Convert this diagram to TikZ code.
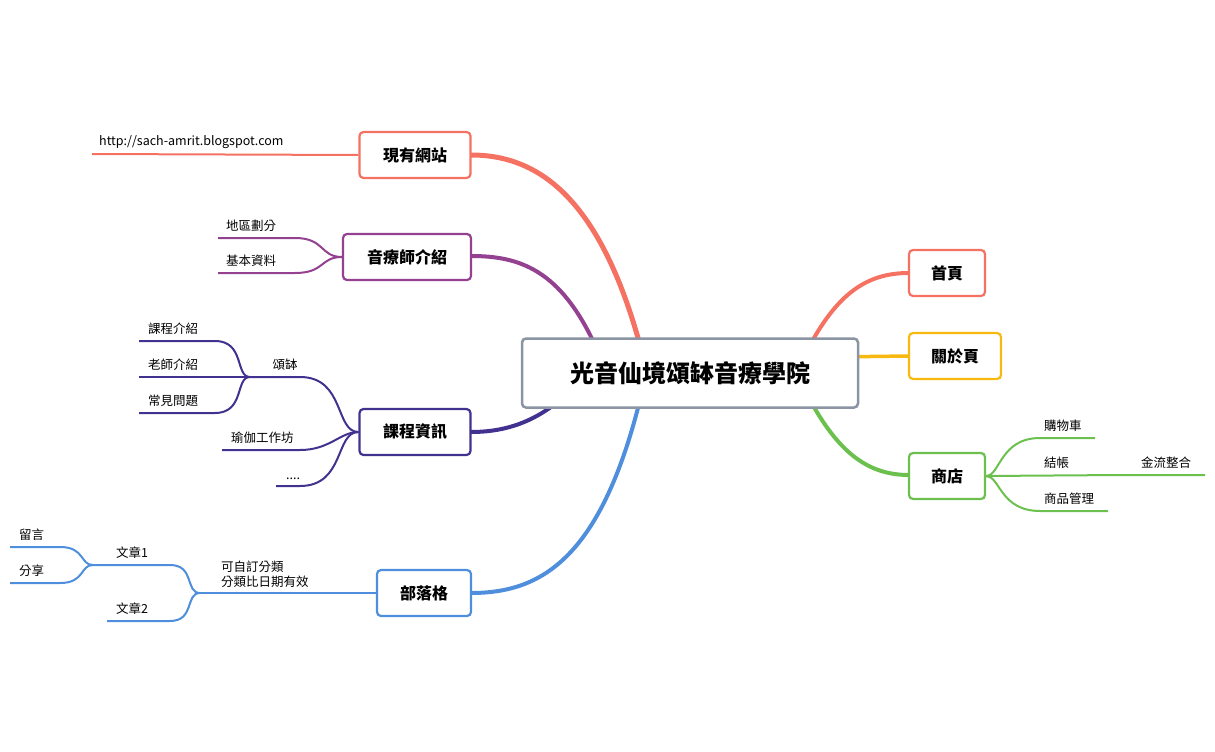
\documentclass[tikz,border=0pt]{standalone}
\usepackage{fontspec}
\setmainfont{Noto Sans CJK TC}
\begin{document}
\begin{tikzpicture}[x=1pt,y=-1pt,
  main/.style={draw,rounded corners=4pt,line width=2.2pt,fill=white,font=\bfseries\fontsize{16}{18}\selectfont,minimum height=46pt,inner sep=0pt},
  lab/.style={font=\fontsize{12.5}{15}\selectfont,inner sep=1pt},
  br/.style={line width=2.4pt},
  sb/.style={line width=2pt}]
\definecolor{cred}{HTML}{F57162}
\definecolor{cpur}{HTML}{934190}
\definecolor{cind}{HTML}{43318F}
\definecolor{cblu}{HTML}{4F8EDC}
\definecolor{cgrn}{HTML}{6CC14E}
\definecolor{cyel}{HTML}{F7B90F}
\definecolor{cgry}{HTML}{8A94A3}
\useasboundingbox (0,0) rectangle (1215,752);
% branches
\draw[cred,line width=5pt] (640,345) .. controls (600,200) and (540,155) .. (471,155);
\draw[cpur,line width=4pt] (595,345) .. controls (560,270) and (520,256) .. (471,256);
\draw[cind,line width=4pt] (560,400) .. controls (530,425) and (500,432) .. (471,432);
\draw[cblu,line width=4pt] (640,400) .. controls (600,560) and (540,593) .. (471,593);
\draw[cred,line width=4pt] (810,345) .. controls (840,290) and (870,273) .. (909,273);
\draw[cyel,line width=3.5pt] (830,357) -- (909,356);
\draw[cgrn,line width=4pt] (810,400) .. controls (840,455) and (870,475) .. (909,475);
% central
\node[draw=cgry,line width=2.5pt,rounded corners=4pt,fill=white,minimum width=336pt,minimum height=69pt,font=\bfseries\fontsize{24}{28}\selectfont] (c) at (690,373) {光音仙境頌缽音療學院};
\node[main,draw=cred,minimum width=111pt] (a) at (415,155) {現有網站};
\node[main,draw=cpur,minimum width=128pt] (b) at (407,257) {音療師介紹};
\node[main,draw=cind,minimum width=111pt] (k) at (415,432) {課程資訊};
\node[main,draw=cblu,minimum width=94pt] (bl) at (424,593) {部落格};
\node[main,draw=cred,minimum width=76pt] (h) at (947,273) {首頁};
\node[main,draw=cyel,minimum width=92pt] (ab) at (955,356) {關於頁};
\node[main,draw=cgrn,minimum width=76pt] (s) at (947,476) {商店};
% 現有網站
\coordinate (u1) at (92,154);
\draw[sb,cred] (a.west) -- (u1);
\node[lab,anchor=south west] (t1) at (98,150) {http://sach-amrit.blogspot.com};
% 音療師介紹
\draw[sb,cpur] (b.west) .. controls (320,257) and (325,238) .. (295,238) -- (218,238) coordinate (u2);
\draw[sb,cpur] (b.west) .. controls (320,257) and (325,273) .. (295,273) -- (218,273) coordinate (u3);
\node[lab,anchor=south west] (t2) at (225,233) {地區劃分};
\node[lab,anchor=south west] (t3) at (225,268) {基本資料};
% 課程資訊
\coordinate (kf) at (250,377);
\draw[sb,cind] (k.west) .. controls (335,432) and (345,377) .. (300,377) -- (kf);
\draw[sb,cind] (k.west) .. controls (340,432) and (330,450) .. (300,450) -- (222,450);
\draw[sb,cind] (k.west) .. controls (335,432) and (345,486) .. (300,486) -- (276,486);
\node[lab,anchor=south] (t4) at (285,372) {頌缽};
\node[lab,anchor=south west] (t5) at (230,445) {瑜伽工作坊};
\node[lab,anchor=south west] (t6) at (285,481) {....};
\draw[sb,cind] (kf) .. controls (235,377) and (245,341) .. (215,341) -- (139,341);
\draw[sb,cind] (kf) -- (139,377);
\draw[sb,cind] (kf) .. controls (235,377) and (245,413) .. (215,413) -- (139,413);
\node[lab,anchor=south west] (t7) at (147,336) {課程介紹};
\node[lab,anchor=south west] (t8) at (147,372) {老師介紹};
\node[lab,anchor=south west] (t9) at (147,408) {常見問題};
% 部落格
\coordinate (bf) at (200,593);
\draw[sb,cblu] (bl.west) -- (bf);
\node[lab,anchor=south west,align=left] (t10) at (220,589) {可自訂分類\\分類比日期有效};
\coordinate (af) at (93,565);
\draw[sb,cblu] (bf) .. controls (185,593) and (195,565) .. (170,565) -- (af);
\draw[sb,cblu] (bf) .. controls (185,593) and (195,621) .. (170,621) -- (107,621);
\node[lab,anchor=south west] (t11) at (115,560) {文章1};
\node[lab,anchor=south west] (t12) at (115,616) {文章2};
\draw[sb,cblu] (af) .. controls (80,565) and (85,547) .. (60,547) -- (10,547);
\draw[sb,cblu] (af) .. controls (80,565) and (85,583) .. (60,583) -- (10,583);
\node[lab,anchor=south west] (t13) at (18,542) {留言};
\node[lab,anchor=south west] (t14) at (18,578) {分享};
% 商店
\draw[sb,cgrn] (s.east) .. controls (1000,476) and (1000,438) .. (1040,438) -- (1095,438);
\draw[sb,cgrn] (s.east) -- (1120,475) -- (1205,475);
\draw[sb,cgrn] (s.east) .. controls (1000,476) and (1000,511) .. (1040,511) -- (1108,511);
\node[lab,anchor=south west] (t15) at (1043,433) {購物車};
\node[lab,anchor=south west] (t16) at (1043,470) {結帳};
\node[lab,anchor=south west] (t17) at (1140,470) {金流整合};
\node[lab,anchor=south west] (t18) at (1043,506) {商品管理};
\end{tikzpicture}
\end{document}
